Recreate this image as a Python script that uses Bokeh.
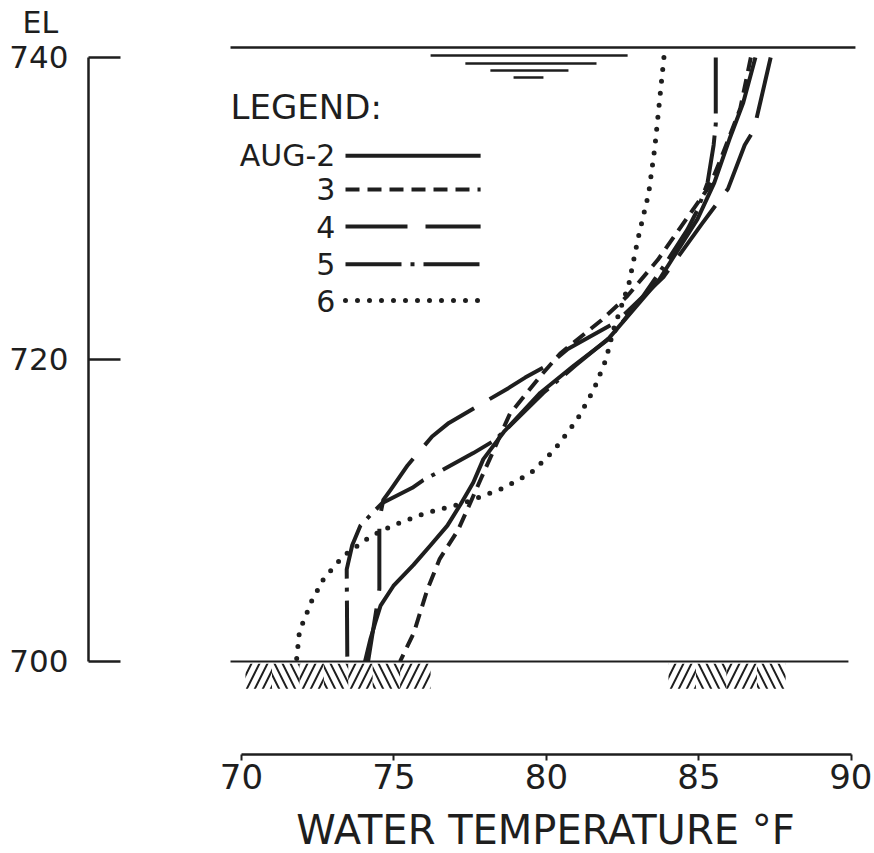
from bokeh.plotting import figure
from bokeh.layouts import row
from bokeh.models import LinearAxis, Range1d, Label, FixedTicker, Title
from bokeh.embed import file_html
from bokeh.resources import INLINE

INK = "#1e1e1e"
FONT = "DejaVu Sans"

# ---- data: water temperature (deg F) vs elevation (ft) ----
elev_aug2 = [740, 737, 734.6, 731.7, 729.3, 725.3, 721.3, 719.6, 717.8, 715.2, 713.4, 711.85, 710.4, 709.0, 707.7, 706.4, 705.0, 703.7, 702.6, 701.5, 700]
temp_aug2 = [86.85, 86.45, 86.0, 85.5, 84.95, 83.7, 82.0, 80.9, 79.8, 78.6, 77.93, 77.6, 77.18, 76.75, 76.2, 75.64, 74.98, 74.56, 74.39, 74.23, 74.05]

elev_aug3 = [740, 736.6, 733.2, 731.5, 726.6, 724.2, 722.6, 720.4, 718.9, 716.4, 712.1, 710.5, 708.7, 706.8, 704.8, 701.9, 700]
temp_aug3 = [86.7, 86.35, 85.7, 85.35, 83.65, 82.65, 81.8, 80.45, 79.8, 78.8, 77.85, 77.5, 77.1, 76.5, 76.1, 75.65, 75.2]

elev_aug4 = [740, 735.2, 734.2, 731.3, 729, 725.5, 722.5, 720.7, 719.7, 718.8, 718.1, 715.8, 714.9, 713.0, 711.4, 710.7, 709.4, 704.8, 703.8, 700]
temp_aug4 = [87.35, 86.8, 86.5, 85.95, 85.1, 83.85, 82.3, 80.7, 80.1, 79.3, 78.75, 76.8, 76.25, 75.45, 74.9, 74.65, 74.52, 74.52, 74.45, 74.15]

elev_aug5 = [740, 735.6, 734.2, 731.7, 729.9, 728.6, 726.5, 724.0, 721.5, 719.6, 717.8, 715.4, 714.6, 713.8, 712.7, 712.0, 711.5, 710.5, 709.7, 709.0, 707.7, 706.1, 700]
temp_aug5 = [85.55, 85.55, 85.48, 85.28, 84.95, 84.62, 83.95, 83.1, 82.1, 80.95, 79.9, 78.7, 78.26, 77.6, 76.6, 75.95, 75.6, 74.62, 74.23, 73.9, 73.63, 73.45, 73.47]

elev_aug6 = [740, 737, 734, 731, 728, 725, 722, 720, 718, 716, 714, 712.5, 711.5, 710.5, 709.8, 709, 708.3, 707, 705.5, 704, 702, 700]
temp_aug6 = [83.85, 83.7, 83.55, 83.35, 83.0, 82.7, 82.2, 81.95, 81.55, 81.0, 80.25, 79.5, 78.6, 77.3, 76.0, 74.95, 74.25, 73.35, 72.7, 72.3, 71.9, 71.8]

series_labels = ["AUG-2", "3", "4", "5", "6"]
x_ticks = [70, 75, 80, 85, 90]
y_ticks = [700, 720, 740]

# reference levels
water_surface = 740.66
reservoir_bottom = 700
surface_extent = (69.64, 90.13)
bottom_extent = (69.64, 89.9)

# ---- styles ----
styles = [
    dict(line_dash="solid", line_cap="butt"),
    dict(line_dash="14 8", line_cap="butt"),
    dict(line_dash="62 18", line_cap="butt"),
    dict(line_dash="56 9 4 9", line_cap="butt"),
    dict(line_dash="0 12", line_cap="round"),
]

y_range = Range1d(693.84, 740.993)
common = dict(frame_height=712, y_range=y_range, x_axis_type=None, y_axis_type=None,
              output_backend="svg", toolbar_location=None,
              min_border_top=40, min_border_bottom=101, min_border_right=0)

# ---- left panel: elevation scale ----
pl = figure(frame_width=130, x_range=Range1d(0, 1), min_border_left=88, **common)
pl.outline_line_color = None
pl.title = Title(text="EL", align="left", offset=-66, standoff=5,
                 text_font=FONT, text_font_size="30px", text_font_style="normal", text_color=INK)
yax = LinearAxis(bounds=(700, 740), ticker=FixedTicker(ticks=y_ticks),
                 major_tick_in=32, major_tick_out=0, minor_tick_in=0, minor_tick_out=0,
                 axis_line_width=2.5, axis_line_color=INK,
                 major_tick_line_width=2.5, major_tick_line_color=INK,
                 major_label_text_font_size="31px", major_label_text_font=FONT,
                 major_label_text_color=INK, major_label_standoff=20)
pl.add_layout(yax, "left")

# ---- main panel ----
p = figure(frame_width=654, x_range=Range1d(69.246, 90.689), min_border_left=0, **common)
p.outline_line_color = None
p.background_fill_color = "white"

xax = LinearAxis(bounds=(70, 90), ticker=FixedTicker(ticks=x_ticks),
                 major_tick_in=0, major_tick_out=6, minor_tick_in=0, minor_tick_out=0,
                 axis_line_width=2.5, axis_line_color=INK,
                 major_tick_line_width=2, major_tick_line_color=INK,
                 major_label_text_font_size="34px", major_label_text_font=FONT,
                 major_label_text_color=INK, major_label_standoff=3,
                 axis_label="WATER TEMPERATURE °F", axis_label_text_font=FONT,
                 axis_label_text_font_size="40px", axis_label_text_font_style="normal",
                 axis_label_text_color=INK, axis_label_standoff=15)
p.add_layout(xax, "below")

# water surface and bottom
p.line(list(surface_extent), [water_surface, water_surface], line_color=INK, line_width=2.5)
p.line(list(bottom_extent), [reservoir_bottom, reservoir_bottom], line_color=INK, line_width=2)

# water surface symbol
sym_x0 = [76.2, 77.34, 78.16, 78.92]
sym_x1 = [82.66, 81.64, 80.72, 79.9]
sym_y = [740.13, 739.6, 739.14, 738.68]
p.segment(x0=sym_x0, x1=sym_x1, y0=sym_y, y1=sym_y, line_color=INK, line_width=2.5)

# ground hatching
hatch_edges = [[70.13, 71.0, 71.9, 72.7, 73.5, 74.3, 75.2, 76.2], [84.0, 84.9, 85.9, 86.9, 87.84]]
for edges in hatch_edges:
    lefts = edges[:-1]
    rights = edges[1:]
    pats = ["/" if i % 2 == 0 else "\\" for i in range(len(lefts))]
    p.quad(left=lefts, right=rights, top=[699.85] * len(lefts), bottom=[698.2] * len(lefts),
           fill_color=None, line_color=None, hatch_pattern=pats,
           hatch_color=INK, hatch_weight=2, hatch_scale=16)

# profiles
profiles = [(temp_aug2, elev_aug2), (temp_aug3, elev_aug3), (temp_aug4, elev_aug4),
            (temp_aug5, elev_aug5), (temp_aug6, elev_aug6)]
for (t, e), st in zip(profiles, styles):
    w = 5 if st["line_cap"] == "round" else 4
    p.line(t, e, line_color=INK, line_width=w, line_join="round", **st)

# legend (drawn manually: label left, line sample right)
leg_label_x = 73.08
leg_line_x = (73.41, 77.84)
leg_rows_y = [733.5, 731.26, 728.8, 726.3, 723.9]
p.add_layout(Label(x=69.64, y=736.75, text="LEGEND:", text_align="left", text_baseline="middle",
                   text_font=FONT, text_font_size="34px", text_color=INK))
for lab, yy, st in zip(series_labels, leg_rows_y, styles):
    p.add_layout(Label(x=leg_label_x, y=yy, text=lab, text_align="right", text_baseline="middle",
                       text_font=FONT, text_font_size="30px", text_color=INK))
    w = 5 if st["line_cap"] == "round" else 4
    p.line(list(leg_line_x), [yy, yy], line_color=INK, line_width=w, **st)

layout = row(pl, p, spacing=0)
open("out.html", "w").write(file_html(layout, INLINE))
